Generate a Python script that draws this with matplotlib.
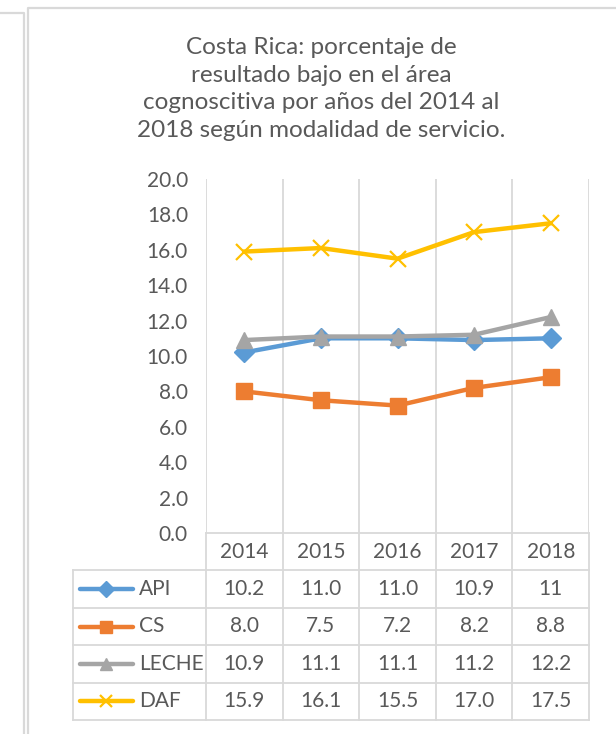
"""Costa Rica: low-result share in the cognitive area by service modality, 2014-2018.

Excel-style line chart with a data table underneath; saved as out.png.
"""

import matplotlib

matplotlib.use("Agg")
import matplotlib.pyplot as plt
from matplotlib.lines import Line2D

W, H = 616, 734
DPI = 100

years = ["2014", "2015", "2016", "2017", "2018"]
series_names = ["API", "CS", "LECHE", "DAF"]
api = [10.2, 11.0, 11.0, 10.9, 11]
cs = [8.0, 7.5, 7.2, 8.2, 8.8]
leche = [10.9, 11.1, 11.1, 11.2, 12.2]
daf = [15.9, 16.1, 15.5, 17.0, 17.5]
y_ticks = [0, 2, 4, 6, 8, 10, 12, 14, 16, 18, 20]

COLORS = ["#5B9BD5", "#ED7D31", "#A5A5A5", "#FFC000"]
MARKERS = ["D", "s", "^", "x"]
TEXT = "#595959"
GRID = "#D9D9D9"
FONT = "Lato"

title = ("Costa Rica: porcentaje de\nresultado bajo en el área\n"
         "cognoscitiva por años del 2014 al\n2018 según modalidad de servicio.")


def box(x0, y0, x1, y1):
    """pixel box (top-left origin) -> figure fraction rect"""
    return [x0 / W, 1 - y1 / H, (x1 - x0) / W, (y1 - y0) / H]


fig = plt.figure(figsize=(W / DPI, H / DPI), dpi=DPI)

# outer frames
for xs, ys in [([0, 24, 24], [13, 13, H]), ([28, 28, W], [H, 8, 8])]:
    fig.add_artist(Line2D([x / W for x in xs], [1 - y / H for y in ys],
                          color=GRID, lw=1.6))

fig.text(321 / W, 1 - 89 / H, title, ha="center", va="center",
         fontsize=17.5, color=TEXT, family=FONT, linespacing=1.4)

# plot area
ax = fig.add_axes(box(206, 179, 589, 533))
data = [api, cs, leche, daf]
x = list(range(len(years)))
for vals, c, m in zip(data, COLORS, MARKERS):
    if m == "x":
        ax.plot(x, vals, color=c, lw=3.2, marker=m, ms=12, mew=1.6, zorder=3)
    else:
        ax.plot(x, vals, color=c, lw=3.2, marker=m,
                ms=11 if m != "D" else 10, zorder=3)
ax.set_xlim(-0.5, len(years) - 0.5)
ax.set_ylim(0, 20)
for b in range(len(years) + 1):
    ax.axvline(b - 0.5, color=GRID, lw=1.3, zorder=1)
ax.set_yticks(y_ticks)
ax.set_yticklabels([f"{v:.1f}" for v in y_ticks], fontsize=15,
                   color=TEXT, family=FONT)
ax.set_xticks([])
ax.tick_params(axis="y", length=0, pad=13)
for s in ax.spines.values():
    s.set_visible(False)

# data table
tab = fig.add_axes(box(73, 533, 589, 720))
left = -0.5 - (206 - 73) / ((589 - 206) / len(years))
tab.set_xlim(left, len(years) - 0.5)
tab.set_ylim(len(series_names) + 1, 0)
tab.axis("off")
kw = dict(color=GRID, lw=1.3, clip_on=False)
tab.plot([-0.5, len(years) - 0.5], [0, 0], **kw)
for r in range(1, len(series_names) + 2):
    tab.plot([left, len(years) - 0.5], [r, r], **kw)
for b in range(len(years) + 1):
    tab.plot([b - 0.5, b - 0.5], [0, len(series_names) + 1], **kw)
tab.plot([left, left], [1, len(series_names) + 1], **kw)

for i, yr in enumerate(years):
    tab.text(i, 0.5, yr, ha="center", va="center", fontsize=15,
             color=TEXT, family=FONT)
for r, (name, vals, c, m) in enumerate(zip(series_names, data, COLORS,
                                           MARKERS), start=1):
    x0, x1 = left + 0.09, left + 0.78
    tab.plot([x0, x1], [r + 0.5, r + 0.5], color=c, lw=3.2,
             solid_capstyle="round", clip_on=False)
    tab.plot([(x0 + x1) / 2], [r + 0.5], color=c, marker=m,
             ms=9 if m != "D" else 8, mew=1.6 if m == "x" else 1,
             clip_on=False)
    tab.text(left + 0.86, r + 0.5, name, ha="left", va="center",
             fontsize=15, color=TEXT, family=FONT)
    for i, v in enumerate(vals):
        tab.text(i, r + 0.5, str(v), ha="center", va="center",
                 fontsize=15, color=TEXT, family=FONT)

fig.savefig("out.png", dpi=DPI)
